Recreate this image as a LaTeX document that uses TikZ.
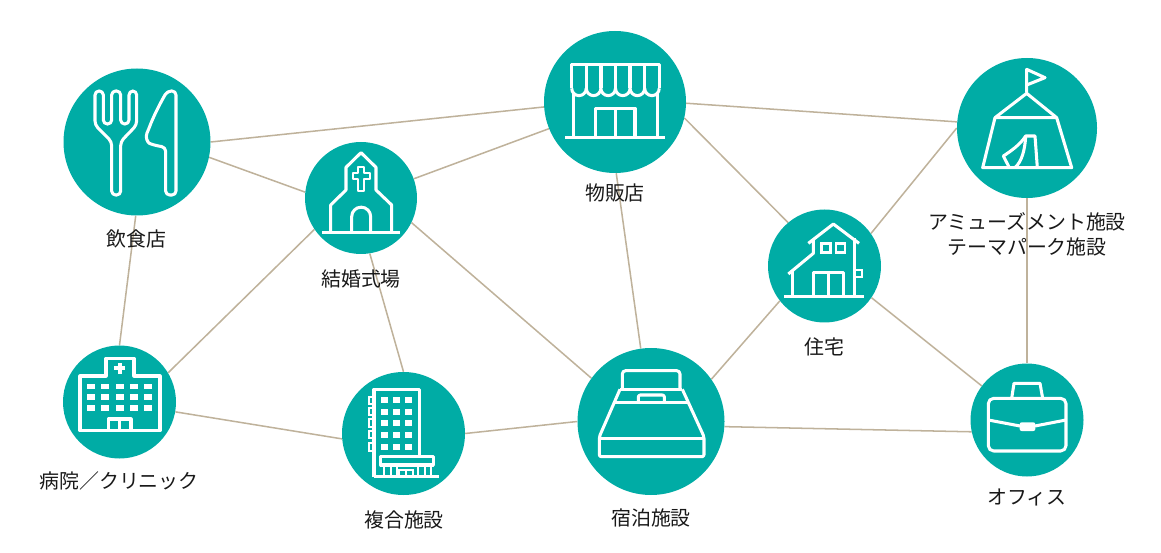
\documentclass[tikz,border=0pt]{standalone}
\usepackage{fontspec}
\setmainfont{Noto Sans CJK JP}
\usetikzlibrary{backgrounds}
\definecolor{hubteal}{RGB}{0,172,165}
\definecolor{linktan}{RGB}{191,178,155}
\tikzset{
	hub/.style={circle,fill=hubteal,draw=none,inner sep=0pt,minimum size=#1*0.3mm},
	link/.style={draw=linktan,line width=1.3pt},
	caption/.style={font=\fontsize{17}{21.3}\selectfont,align=center,inner sep=0pt,text=black!90},
	icon/.style={draw=white,line width=2.6pt,line join=round,line cap=butt},
	thin icon/.style={draw=white,line width=1.8pt,line join=miter},
	zoomed/.style={shift={#1},x=0.1mm,y=-0.1mm}
}

\begin{document}
\begin{tikzpicture}[x=0.3mm,y=-0.3mm]
	\useasboundingbox (0,0) rectangle (1161,553);
	\node[hub=147] (restaurant) at (137,142) {};
	\node[hub=112] (chapel) at (361,198) {};
	\node[hub=142] (shop) at (615,102) {};
	\node[hub=140] (tent) at (1027,128) {};
	\node[hub=113] (house) at (824.5,266) {};
	\node[hub=113] (hospital) at (119.5,402) {};
	\node[hub=123] (tower) at (403.5,433.5) {};
	\node[hub=147] (bed) at (651,421.5) {};
	\node[hub=113] (office) at (1027,420) {};

	\node[caption] (restaurantlabel) at (136.5,239) {飲食店};
	\node[caption] (chapellabel) at (361,279) {結婚式場};
	\node[caption] (shoplabel) at (615,193) {物販店};
	\node[caption] (tentlabel) at (1027,234.5) {アミューズメント施設\\テーマパーク施設};
	\node[caption] (houselabel) at (824,347) {住宅};
	\node[caption] (hospitallabel) at (119,481) {病院／クリニック};
	\node[caption] (towerlabel) at (404,520) {複合施設};
	\node[caption] (bedlabel) at (651,518) {宿泊施設};
	\node[caption] (officelabel) at (1027,497) {オフィス};

	\begin{scope}[on background layer]
		\draw[link] (restaurant.0)--(shop.184);
		\draw[link] (restaurant.-12)--(chapel.174);
		\draw[link] (restaurant.-91)--(hospital.90);
		\draw[link] (chapel.20)--(shop.202);
		\draw[link] (chapel.214)--(hospital.31);
		\draw[link] (chapel.-81)--(tower.90);
		\draw[link] (chapel.-26.5)--(bed.144.5);
		\draw[link] (shop.-89)--(bed.98.5);
		\draw[link] (shop.-13)--(house.130);
		\draw[link] (shop.-1)--(tent.175);
		\draw[link] (tent.180)--(house.35.6);
		\draw[link] (tent.-90)--(office.90);
		\draw[link] (house.218.5)--(bed.35.5);
		\draw[link] (house.-34)--(office.143);
		\draw[link] (tower.0)--(bed.180);
		\draw[link] (bed.-4)--(office.192);
		\draw[link] (hospital.-10)--(tower.185);
	\end{scope}

	\begin{scope}[zoomed={(50,60)}]
		\draw[icon,rounded corners=1.2mm] (185,405)--(185,245)--(135,195)--(135,93)--(160,93)--(160,192)--(185,192)--(185,93)--(212,93)--(212,192)--(237,192)--(237,93)--(260,93)--(260,195)--(212,245)--(212,405)--cycle;
		\draw[icon,rounded corners=1.2mm] (378,93)--(378,405)--(347,405)--(347,262)--(310,255) .. controls (293,248) and (285,232) .. (296,208) .. controls (308,175) and (330,130) .. (352,93)--cycle;
		\draw[icon] (817,518)--(1050,518);
		\draw[icon] (842,518)--(842,435)--(888,390)--(888,322)--(933,278)--(978,322)--(978,390)--(1025,435)--(1025,518);
		\draw[icon] (905,518)--(905,470) arc (180:360:28.5)--(962,518);
		\draw[icon,line width=1.9pt] (925,322)--(942,322)--(942,340)--(960,340)--(960,358)--(942,358)--(942,392)--(925,392)--(925,358)--(908,358)--(908,340)--(925,340)--cycle;
	\end{scope}

	\begin{scope}[zoomed={(530,20)}]
		\draw[icon] (125,205)--(125,133)--(388,133)--(388,205);
		\draw[icon] (125,205) arc (180:0:21.9) arc (180:0:21.9) arc (180:0:21.9) arc (180:0:21.9) arc (180:0:21.9) arc (180:0:21.9);
		\foreach \xpos in {169,213,257,300,344}
			\draw[icon] (\xpos,133)--(\xpos,205);
		\draw[icon] (130,222)--(130,353);
		\draw[icon] (382,222)--(382,353);
		\draw[icon] (105,353)--(405,353);
		\draw[icon] (197,353)--(197,265)--(315,265)--(315,353);
		\draw[icon] (257,265)--(257,353);
	\end{scope}

	\begin{scope}[zoomed={(760,50)}]
		\draw[icon] (800,128)--(800,58)--(855,83)--(800,105);
		\draw[icon] (705,203)--(800,130)--(890,203);
		\draw[icon] (668,353)--(705,203)--(890,203)--(935,353)--cycle;
		\draw[icon] (832,353)--(825,258)--(797,258) .. controls (780,285) and (750,305) .. (730,318)--(748,353);
		\draw[icon] (797,258) .. controls (795,300) and (785,335) .. (765,353);
		\draw[icon] (72,740)--(312,740);
		\draw[icon] (145,580)--(220,522)--(297,580);
		\draw[icon] (160,568)--(160,610)--(85,672);
		\draw[icon] (97,663)--(97,740);
		\draw[icon] (283,565)--(283,740);
		\draw[thin icon,line width=2.2pt] (185,580) rectangle (212,608);
		\draw[thin icon,line width=2.2pt] (228,580) rectangle (255,608);
		\draw[icon] (160,740)--(160,667)--(250,667)--(250,740);
		\draw[icon] (205,667)--(205,740);
		\draw[thin icon] (283,660)--(305,660)--(305,680)--(283,680);
	\end{scope}

	\begin{scope}[zoomed={(50,340)}]
		\draw[icon] (90,108)--(168,108)--(168,55)--(252,55)--(252,108)--(330,108)--(330,272)--(90,272)--cycle;
		\draw[icon] (175,272)--(175,237)--(243,237)--(243,272);
		\draw[icon] (209,237)--(209,272);
		\fill[white] (203,69) rectangle (215,101);
		\fill[white] (193,79) rectangle (225,91);
		\foreach \xpos in {122,166,209,252,295}
			\foreach \ypos in {139,171,204}
				\fill[white] (\xpos-12,\ypos-8) rectangle (\xpos+12,\ypos+8);
		\draw[icon] (972,410)--(972,148)--(1108,148)--(1108,350);
		\foreach \xpos in {1003,1040,1076}
			\foreach \ypos in {180,216,250,285,320}
				\fill[white] (\xpos-10,\ypos-9) rectangle (\xpos+10,\ypos+9);
		\foreach \ypos in {170,204,238,272,310}
			\draw[thin icon] (958,\ypos) rectangle (972,\ypos+22);
		\draw[icon] (992,375)--(992,350)--(1150,350)--(1150,375)--cycle;
		\draw[icon] (972,410)--(1167,410);
		\foreach \xpos in {1003,1022,1040,1105,1124,1143}
			\draw[thin icon] (\xpos,375)--(\xpos,410);
		\draw[thin icon] (1048,410)--(1048,390)--(1090,390)--(1090,410);
		\draw[thin icon] (1069,390)--(1069,410);
	\end{scope}

	\begin{scope}[zoomed={(570,340)}]
		\draw[icon,rounded corners=1mm] (157,148)--(157,92)--(330,92)--(330,148);
		\draw[icon] (150,148)--(337,148);
		\draw[icon,rounded corners=0.6mm] (205,188)--(205,165)--(283,165)--(283,188);
		\draw[icon,rounded corners=0.6mm] (150,148)--(88,290)--(88,350)--(402,350)--(402,290)--(337,148);
		\draw[icon] (88,295)--(402,295);
		\draw[icon] (133,188)--(353,188);
	\end{scope}

	\begin{scope}[zoomed={(960,355)}]
		\draw[icon,rounded corners=1.6mm] (85,130) rectangle (318,288);
		\draw[icon] (155,130)--(162,85)--(240,85)--(248,130);
		\draw[icon] (85,195)--(180,213);
		\draw[icon] (225,213)--(318,195);
		\fill[white,rounded corners=0.6mm] (179,202) rectangle (226,228);
	\end{scope}
\end{tikzpicture}
\end{document}
